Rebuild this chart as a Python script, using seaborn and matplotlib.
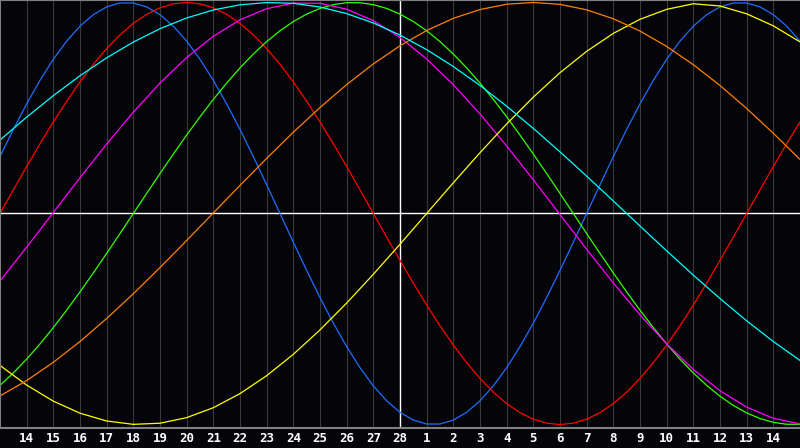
import matplotlib
matplotlib.use("Agg")
import matplotlib.pyplot as plt
import seaborn as sns
import pandas as pd

# day index: 0 = Feb 13 ... 15 = Feb 28 (today) ... 30 = Mar 15
days = list(range(31))
half_days = [i / 2 for i in range(61)]
tick_pos = list(range(1, 30))
tick_labels = [str(d) for d in range(14, 29)] + [str(d) for d in range(1, 15)]
today_pos = 15

# fast cycles read every half day
physical = [0.2698, 0.3984, 0.5196, 0.6311, 0.7308, 0.8170, 0.8879, 0.9423, 0.9791, 0.9977,
            0.9977, 0.9791, 0.9423, 0.8879, 0.8170, 0.7308, 0.6311, 0.5196, 0.3984, 0.2698,
            0.1362, 0.0, -0.1362, -0.2698, -0.3984, -0.5196, -0.6311, -0.7308, -0.8170, -0.8879,
            -0.9423, -0.9791, -0.9977, -0.9977, -0.9791, -0.9423, -0.8879, -0.8170, -0.7308, -0.6311,
            -0.5196, -0.3984, -0.2698, -0.1362, 0.0, 0.1362, 0.2698, 0.3984, 0.5196, 0.6311,
            0.7308, 0.8170, 0.8879, 0.9423, 0.9791, 0.9977, 0.9977, 0.9791, 0.9423, 0.8879, 0.8170]
emotional = [0.0, 0.1120, 0.2225, 0.3303, 0.4339, 0.5320, 0.6235, 0.7071, 0.7818, 0.8467,
             0.9010, 0.9439, 0.9749, 0.9937, 1.0, 0.9937, 0.9749, 0.9439, 0.9010, 0.8467,
             0.7818, 0.7071, 0.6235, 0.5320, 0.4339, 0.3303, 0.2225, 0.1120, 0.0, -0.1120,
             -0.2225, -0.3303, -0.4339, -0.5320, -0.6235, -0.7071, -0.7818, -0.8467, -0.9010, -0.9439,
             -0.9749, -0.9937, -1.0, -0.9937, -0.9749, -0.9439, -0.9010, -0.8467, -0.7818, -0.7071,
             -0.6235, -0.5320, -0.4339, -0.3303, -0.2225, -0.1120, 0.0, 0.1120, 0.2225, 0.3303, 0.4339]
intellectual = [-0.8146, -0.7557, -0.6901, -0.6182, -0.5407, -0.4582, -0.3717, -0.2817, -0.1893, -0.0951,
                0.0, 0.0951, 0.1893, 0.2817, 0.3717, 0.4582, 0.5407, 0.6182, 0.6901, 0.7557,
                0.8146, 0.8660, 0.9097, 0.9450, 0.9718, 0.9898, 0.9989, 0.9989, 0.9898, 0.9718,
                0.9450, 0.9097, 0.8660, 0.8146, 0.7557, 0.6901, 0.6182, 0.5407, 0.4582, 0.3717,
                0.2817, 0.1893, 0.0951, 0.0, -0.0951, -0.1893, -0.2817, -0.3717, -0.4582, -0.5407,
                -0.6182, -0.6901, -0.7557, -0.8146, -0.8660, -0.9097, -0.9450, -0.9718, -0.9898, -0.9989, -0.9989]

# slow cycles read every day
intuitive = [-0.3200, -0.1597, 0.0050, 0.1695, 0.3294, 0.4803, 0.6182, 0.7391, 0.8399, 0.9177,
             0.9706, 0.9970, 0.9962, 0.9682, 0.9137, 0.8344, 0.7323, 0.6103, 0.4716, 0.3200,
             0.1597, -0.0050, -0.1695, -0.3294, -0.4803, -0.6182, -0.7391, -0.8399, -0.9177, -0.9706, -0.9970]
aesthetic = [-0.7199, -0.8133, -0.8893, -0.9464, -0.9834, -0.9993, -0.9940, -0.9675, -0.9204, -0.8536,
             -0.7686, -0.6673, -0.5517, -0.4244, -0.2881, -0.1456, 0.0, 0.1456, 0.2881, 0.4244,
             0.5517, 0.6673, 0.7686, 0.8536, 0.9204, 0.9675, 0.9940, 0.9834, 0.9464, 0.8893, 0.8133]
awareness = [-0.8647, -0.7918, -0.7052, -0.6067, -0.4977, -0.3803, -0.2563, -0.1279, 0.0026, 0.1331,
             0.2613, 0.3851, 0.5023, 0.6108, 0.7090, 0.7949, 0.8673, 0.9249, 0.9666, 0.9918,
             1.0, 0.9911, 0.9652, 0.9229, 0.8647, 0.7918, 0.7052, 0.6067, 0.4977, 0.3803, 0.2563]
spiritual = [0.3482, 0.4566, 0.5586, 0.6529, 0.7378, 0.8125, 0.8757, 0.9267, 0.9646, 0.9890,
             0.9996, 0.9961, 0.9786, 0.9473, 0.9028, 0.8456, 0.7765, 0.6965, 0.6068, 0.5085,
             0.4031, 0.2921, 0.1769, 0.0593, -0.0593, -0.1769, -0.2921, -0.4031, -0.5085, -0.6068, -0.6965]

series = {
    "physical": (half_days, physical),
    "emotional": (half_days, emotional),
    "intellectual": (half_days, intellectual),
    "intuitive": (days, intuitive),
    "aesthetic": (days, aesthetic),
    "awareness": (days, awareness),
    "spiritual": (days, spiritual),
}
palette = {
    "physical": "#1e6eff",
    "emotional": "#ff0000",
    "intellectual": "#33ff00",
    "intuitive": "#ff00ff",
    "aesthetic": "#ffff00",
    "awareness": "#ff8000",
    "spiritual": "#00ffff",
}

rows = []
for name, (xs, vals) in series.items():
    for d, v in zip(xs, vals):
        rows.append({"day": d, "value": v, "cycle": name})
df = pd.DataFrame(rows)

bg = "#050408"
sns.set_style("dark", {"axes.facecolor": bg, "figure.facecolor": bg})

fig = plt.figure(figsize=(8, 4.48), dpi=100, facecolor=bg)
ax = fig.add_axes([0, 20 / 448, 1, 428 / 448])
ax.set_facecolor(bg)

ax.set_xlim(0, 30)
ax.set_ylim(-1.0166, 1.0118)
ax.set_yticks([])
ax.set_xticks(tick_pos, tick_labels)
ax.grid(axis="x", color="#3a3a3a", lw=0.8)
ax.grid(axis="y", visible=False)
ax.set_axisbelow(True)

ax.axhline(0, color="white", lw=1.0, zorder=1.5)
ax.axvline(today_pos, color="white", lw=1.0, zorder=1.5)

sns.lineplot(data=df, x="day", y="value", hue="cycle", palette=palette,
             linewidth=0.9, legend=False, ax=ax, estimator=None, sort=False)

ax.set_xlabel("")
ax.set_ylabel("")
ax.tick_params(axis="x", length=0, pad=3, labelcolor="white", labelsize=9)
for lab in ax.get_xticklabels():
    lab.set_fontweight("bold")
    lab.set_family("DejaVu Sans Mono")

for s in ["left", "top", "bottom"]:
    ax.spines[s].set_visible(True)
    ax.spines[s].set_color("#808080")
    ax.spines[s].set_linewidth(1.5)
ax.spines["right"].set_visible(False)

fig.savefig("out.png", dpi=100, facecolor=bg)
